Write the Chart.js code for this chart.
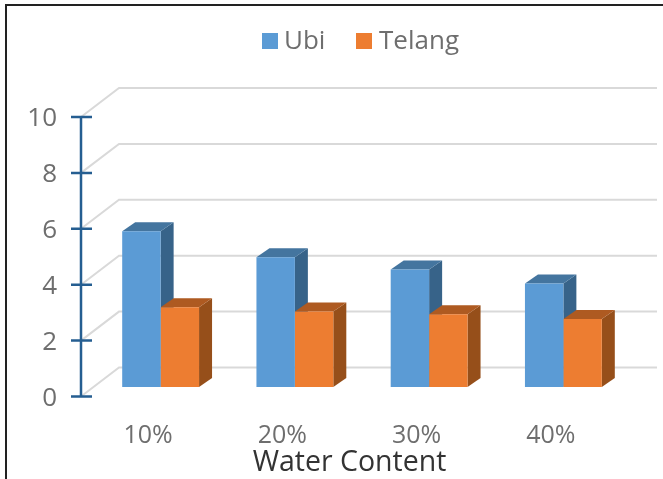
<!DOCTYPE html>
<html>
<head>
<meta charset="utf-8">
<script src="https://cdn.jsdelivr.net/npm/chart.js@4"></script>
<style>
html,body{margin:0;padding:0;background:#fff;overflow:hidden}
#wrap{position:relative;width:663px;height:479px}
canvas{display:block;filter:blur(0.4px)}
#frame{position:absolute;left:5px;top:4px;right:0;bottom:0;border-top:2px solid #222;border-left:2px solid #222;pointer-events:none}
</style>
</head>
<body>
<div id="wrap"><canvas id="c" width="663" height="479"></canvas><div id="frame"></div></div>
<script>
const categories = ['10%', '20%', '30%', '40%'];
const ubi = [5.57, 4.64, 4.2, 3.7];
const telang = [2.85, 2.7, 2.6, 2.43];
const axisTitle = 'Water Content';
const FONT = '"Open Sans", sans-serif';
const BAR_SHIFT = {x: 12.5, y: -9.5};
const DEPTH = {x: 13, y: -9};
const WALL = {x: 38, y: -29};
const LEGEND = [{box: 262, text: 284}, {box: 356, text: 379}];
const faces = [
  {top: '#44759f', side: '#376389'},
  {top: '#ae5a21', side: '#964f1a'}
];

const threeD = {
  id: 'threeD',
  beforeDatasetsDraw(chart) {
    const {ctx, chartArea: a, scales: {y}} = chart;
    ctx.save();
    ctx.strokeStyle = '#d9d9d9';
    ctx.lineWidth = 2;
    y.ticks.forEach(t => {
      const py = y.getPixelForValue(t.value);
      ctx.beginPath();
      ctx.moveTo(a.left, py);
      ctx.lineTo(a.left + WALL.x, py + WALL.y);
      ctx.lineTo(a.left + 576, py + WALL.y);
      ctx.stroke();
    });
    ctx.strokeStyle = '#255e91';
    ctx.lineWidth = 2.5;
    ctx.beginPath();
    ctx.moveTo(a.left, y.getPixelForValue(10));
    ctx.lineTo(a.left, y.getPixelForValue(0));
    y.ticks.forEach(t => {
      const py = y.getPixelForValue(t.value);
      ctx.moveTo(a.left - 10, py);
      ctx.lineTo(a.left + 11, py);
    });
    ctx.stroke();
    ctx.restore();

    ctx.save();
    ctx.font = '26px ' + FONT;
    ctx.textBaseline = 'middle';
    chart.data.datasets.forEach((ds, i) => {
      ctx.fillStyle = ds.backgroundColor;
      ctx.fillRect(LEGEND[i].box, 33, 16, 16);
      ctx.fillStyle = '#6e6e6e';
      ctx.fillText(ds.label, LEGEND[i].text, 42);
    });
    ctx.restore();

    ctx.save();
    ctx.translate(BAR_SHIFT.x, BAR_SHIFT.y);
    chart.getSortedVisibleDatasetMetas().forEach((meta, i) => {
      meta.data.forEach(bar => {
        const {x, y: top, base, width} = bar.getProps(['x', 'y', 'base', 'width'], true);
        const l = x - width / 2, r = x + width / 2;
        ctx.fillStyle = faces[i].side;
        ctx.beginPath();
        ctx.moveTo(r, top); ctx.lineTo(r + DEPTH.x, top + DEPTH.y);
        ctx.lineTo(r + DEPTH.x, base + DEPTH.y); ctx.lineTo(r, base);
        ctx.closePath(); ctx.fill();
        ctx.fillStyle = faces[i].top;
        ctx.beginPath();
        ctx.moveTo(l, top); ctx.lineTo(l + DEPTH.x, top + DEPTH.y);
        ctx.lineTo(r + DEPTH.x, top + DEPTH.y); ctx.lineTo(r, top);
        ctx.closePath(); ctx.fill();
      });
    });
  },
  afterDatasetsDraw(chart) {
    chart.ctx.restore();
  }
};

new Chart(document.getElementById('c'), {
  type: 'bar',
  data: {
    labels: categories,
    datasets: [
      {label: 'Ubi', data: ubi, backgroundColor: '#5b9bd5'},
      {label: 'Telang', data: telang, backgroundColor: '#ed7d31'}
    ]
  },
  plugins: [threeD],
  options: {
    responsive: false,
    animation: false,
    layout: {padding: {left: 0, right: 45, top: 117, bottom: 0}},
    datasets: {bar: {barPercentage: 1, categoryPercentage: 0.5725}},
    plugins: {
      tooltip: {enabled: false},
      legend: {display: false}
    },
    scales: {
      x: {
        grid: {display: false, drawTicks: false},
        border: {display: false},
        ticks: {padding: 24, color: '#6e6e6e', font: {family: FONT, size: 25}, maxRotation: 0},
        title: {display: true, text: axisTitle, color: '#333', padding: {top: 0, bottom: -1},
                font: {family: FONT, size: 28.5}},
        afterFit(s) { s.height = 82.5; }
      },
      y: {
        min: 0, max: 10,
        grid: {display: false, drawTicks: false},
        border: {display: false},
        ticks: {stepSize: 2, padding: 24, labelOffset: 2, color: '#6e6e6e', font: {family: FONT, size: 26}},
        afterFit(s) { s.width = 81; }
      }
    }
  }
});
</script>
</body>
</html>
